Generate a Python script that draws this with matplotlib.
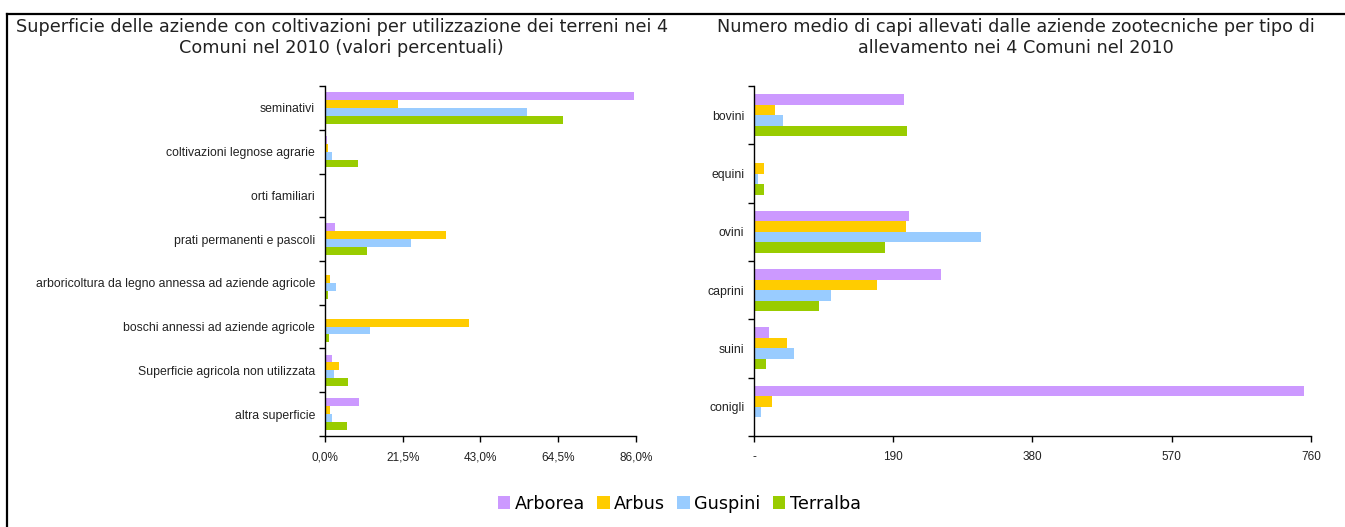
import numpy as np
import matplotlib
matplotlib.use('Agg')
import matplotlib.pyplot as plt
from matplotlib.ticker import FixedLocator, FuncFormatter
from matplotlib.lines import Line2D

# data
comuni = ['Arborea', 'Arbus', 'Guspini', 'Terralba']
colori = ['#CC99FF', '#FFCC00', '#99CCFF', '#99CC00']

utilizzo = ['seminativi', 'coltivazioni legnose agrarie', 'orti familiari',
            'prati permanenti e pascoli',
            'arboricoltura da legno annessa ad aziende agricole',
            'boschi annessi ad aziende agricole',
            'Superficie agricola non utilizzata', 'altra superficie']
sup_arborea = [85.6, 0.6, 0.0, 2.8, 0.0, 0.0, 1.9, 9.4]
sup_arbus = [20.1, 0.9, 0.0, 33.4, 1.4, 39.8, 3.9, 1.5]
sup_guspini = [56.0, 1.9, 0.0, 23.7, 3.0, 12.5, 2.5, 1.9]
sup_terralba = [65.7, 9.2, 0.0, 11.7, 0.8, 1.0, 6.4, 6.1]

allevamento = ['bovini', 'equini', 'ovini', 'caprini', 'suini', 'conigli']
capi_arborea = [204, 2, 211, 255, 21, 751]
capi_arbus = [28, 13, 208, 168, 45, 24]
capi_guspini = [39, 5, 310, 105, 55, 9]
capi_terralba = [209, 13, 179, 89, 17, 0]

left_ticks = [0, 21.5, 43.0, 64.5, 86.0]
right_ticks = [0, 190, 380, 570, 760]

tick_font = 'Liberation Sans'
title_font = ['DejaVu Sans']

fig = plt.figure(figsize=(13.45, 5.27), dpi=100)
ax1 = fig.add_axes([0.2416, 0.1727, 0.2312, 0.6641])
ax2 = fig.add_axes([0.5606, 0.1727, 0.4141, 0.6641])


def draw_bars(ax, cats, series, ticks, fmt):
    h = 0.18
    y = np.arange(len(cats))
    for i, (vals, col) in enumerate(zip(series, colori)):
        ax.barh(y + (i - 1.5) * h, vals, height=h, color=col, label=comuni[i])
    ax.set_ylim(len(cats) - 0.5, -0.5)
    ax.set_xlim(ticks[0], ticks[-1])
    ax.set_yticks(y)
    ax.set_yticklabels(cats, fontsize=8.8, family=tick_font, color='#222222')
    ax.yaxis.set_minor_locator(FixedLocator(np.arange(len(cats) + 1) - 0.5))
    ax.tick_params(axis='y', which='major', length=0, pad=7)
    ax.tick_params(axis='y', which='minor', length=4, width=1)
    ax.set_xticks(ticks)
    ax.xaxis.set_major_formatter(FuncFormatter(fmt))
    ax.tick_params(axis='x', length=4, width=1, pad=7, labelsize=8.5,
                   labelcolor='#222222')
    for lab in ax.get_xticklabels():
        lab.set_family(tick_font)
    for s in ['top', 'right']:
        ax.spines[s].set_visible(False)
    for s in ['left', 'bottom']:
        ax.spines[s].set_linewidth(1)


draw_bars(ax1, utilizzo, [sup_arborea, sup_arbus, sup_guspini, sup_terralba],
          left_ticks, lambda v, p: ('%.1f%%' % v).replace('.', ','))
draw_bars(ax2, allevamento, [capi_arborea, capi_arbus, capi_guspini, capi_terralba],
          right_ticks, lambda v, p: '-' if v == 0 else '%d' % v)

fig.text(0.254, 0.929,
         'Superficie delle aziende con coltivazioni per utilizzazione dei terreni nei 4\n'
         'Comuni nel 2010 (valori percentuali)',
         ha='center', va='center', fontsize=12.7, family=title_font,
         color='#222222', linespacing=1.25)
fig.text(0.755, 0.929,
         'Numero medio di capi allevati dalle aziende zootecniche per tipo di\n'
         'allevamento nei 4 Comuni nel 2010',
         ha='center', va='center', fontsize=12.7, family=title_font,
         color='#222222', linespacing=1.25)

handles, labels = ax1.get_legend_handles_labels()
fig.legend(handles, labels, loc='center', bbox_to_anchor=(0.505, 0.044),
           ncol=4, frameon=False, handlelength=0.7, handleheight=0.7,
           handletextpad=0.25, columnspacing=0.7,
           prop={'family': title_font, 'size': 12.7})

# frame lines like the original export
fig.add_artist(Line2D([0.0052, 1.0], [0.974, 0.974], color='black', lw=1.6,
                      transform=fig.transFigure))
fig.add_artist(Line2D([0.0052, 0.0052], [0.0, 0.974], color='black', lw=1.6,
                      transform=fig.transFigure))

fig.savefig('out.png', dpi=100)
plt.close(fig)
